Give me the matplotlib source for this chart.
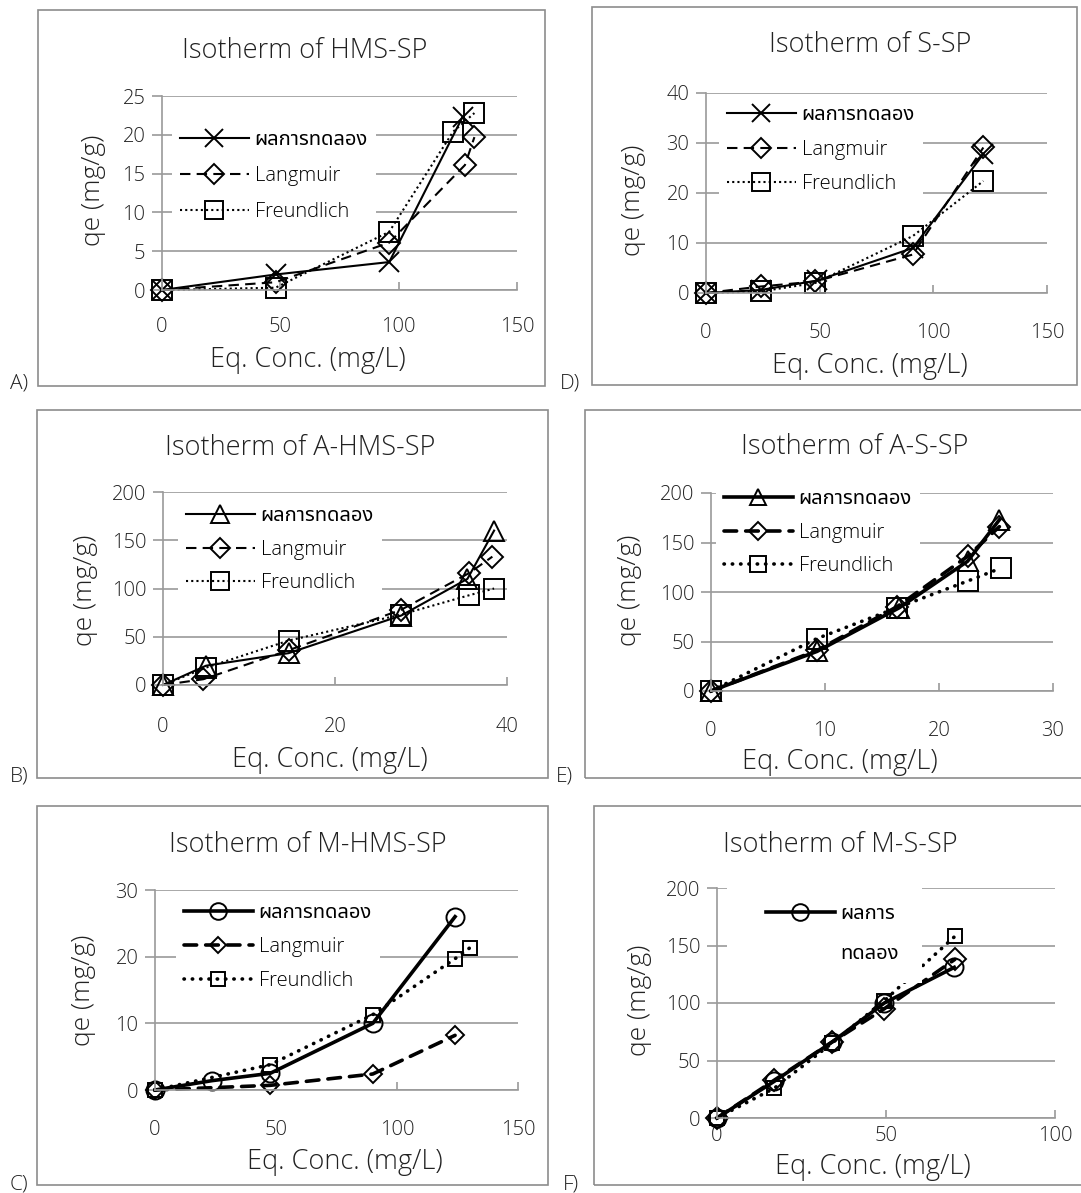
import matplotlib
matplotlib.use('Agg')
import matplotlib.pyplot as plt
from matplotlib import font_manager
from matplotlib.ft2font import FT2Font
from matplotlib.patches import Rectangle
from matplotlib.lines import Line2D


W, H = 1081, 1193

# ---- data ----
labels = ['ผลการทดลอง', 'Langmuir', 'Freundlich']

# A) HMS-SP
hms_exp_x = [0, 48, 96, 127]
hms_exp_y = [0, 2.0, 3.6, 22.3]
hms_lang_x = [0, 48, 96, 128, 132]
hms_lang_y = [0, 1.0, 6.1, 16.1, 19.7]
hms_freu_x = [0, 48, 96, 123, 132]
hms_freu_y = [0, 0.3, 7.5, 20.4, 22.8]

# D) S-SP
s_exp_x = [0, 24, 49, 91, 122]
s_exp_y = [0, 0.6, 2.5, 9.0, 27.8]
s_lang_x = [0, 24, 48, 91, 122]
s_lang_y = [0, 1.3, 2.3, 7.7, 29.1]
s_freu_x = [0, 24, 48, 91, 122]
s_freu_y = [0, 0.3, 2.0, 11.4, 22.4]

# B) A-HMS-SP
ahms_exp_x = [0, 5.0, 14.6, 27.7, 35.4, 38.5]
ahms_exp_y = [0, 20, 33, 72, 110, 160]
ahms_lang_x = [0, 4.7, 14.6, 27.7, 35.6, 38.3]
ahms_lang_y = [0, 6, 36, 78, 116, 133]
ahms_freu_x = [0, 5.0, 14.6, 27.7, 35.6, 38.5]
ahms_freu_y = [0, 18, 46, 73, 93, 100]

# E) A-S-SP
as_exp_x = [0, 9.3, 16.5, 22.5, 25.3]
as_exp_y = [0, 40, 84, 131, 173]
as_lang_x = [0, 9.3, 16.3, 22.5, 25.3]
as_lang_y = [0, 41, 85, 136, 166]
as_freu_x = [0, 9.3, 16.3, 22.5, 25.4]
as_freu_y = [0, 53, 84, 111, 124]

# C) M-HMS-SP
mhms_exp_x = [0, 23.5, 47.6, 90, 124]
mhms_exp_y = [0, 1.4, 2.5, 10.0, 26.0]
mhms_lang_x = [0, 47.6, 90, 124]
mhms_lang_y = [0, 0.7, 2.4, 8.2]
mhms_freu_x = [0, 47.6, 90, 124, 130]
mhms_freu_y = [0, 3.8, 11.3, 19.7, 21.3]

# F) M-S-SP
ms_exp_x = [0, 17, 34, 49.5, 70.2]
ms_exp_y = [0, 32, 66, 100, 131]
ms_lang_x = [0, 17, 34, 49.5, 70.4]
ms_lang_y = [0, 33, 66, 95, 138]
ms_freu_x = [0, 17, 34, 49.5, 70.4]
ms_freu_y = [0, 26, 65, 102, 158]


def thai_font():
    # any installed font with Thai glyphs; prefer plain sans ones, lightest weight
    found = {}
    for f in font_manager.fontManager.ttflist:
        try:
            if FT2Font(f.fname).get_char_index(ord('ผ')):
                w = f.weight if isinstance(f.weight, int) else 400
                found[f.name] = min(found.get(f.name, 1000), w)
        except Exception:
            pass
    if not found:
        return None, 'normal'
    for pref in ['Noto Sans Thai', 'Noto Sans Thai UI', 'Loma', 'Garuda',
                 'Tlwg Typo', 'Sarabun']:
        if pref in found:
            return pref, found[pref]
    name = sorted(found)[0]
    return name, found[name]


fam = ['Open Sans']
th, th_weight = thai_font()
if th:
    fam.append(th)
fam.append('DejaVu Sans')
plt.rcParams['font.family'] = fam

GRID = '#9a9a9a'
BOX = '#8c8c8c'
TXT = '#222222'

fig = plt.figure(figsize=(W / 100, H / 100), dpi=100)


def fx(px):
    return px / W


def fy(py):
    return 1 - py / H


def panel(letter, title, series, box, axpx, xmax, xstep, ymax, ystep,
          title_y, xlab, ylab, letter_pos, tick_y, leg, thick=False,
          leg_labels=None, leg_box=None):
    x0, y0, x1, y1 = box
    fig.patches.append(Rectangle((fx(x0), fy(y1)), fx(x1 - x0), (y1 - y0) / H,
                                 transform=fig.transFigure, fill=False,
                                 edgecolor=BOX, lw=1.2))
    l, t, r, b = axpx
    ax = fig.add_axes([fx(l), fy(b), fx(r - l), (b - t) / H])
    ax.set_xlim(0, xmax)
    ax.set_ylim(0, ymax)
    ax.set_xticks(range(0, xmax + 1, xstep))
    ax.set_yticks(range(0, ymax + 1, ystep))
    for s in ['top', 'right']:
        ax.spines[s].set_visible(False)
    for s in ['left', 'bottom']:
        ax.spines[s].set_color(GRID)
        ax.spines[s].set_linewidth(1.2)
    ax.yaxis.grid(True, color=GRID, lw=1.2)
    ax.set_axisbelow(True)
    pad = (tick_y - b - 10) * 0.72
    ax.tick_params(axis='x', direction='in', length=6, color=GRID, width=1.2,
                   pad=pad, labelsize=14.5, labelcolor=TXT)
    ax.tick_params(axis='y', direction='out', length=7, color=GRID, width=1.2,
                   pad=5, labelsize=14.5, labelcolor=TXT)
    for tl in ax.get_xticklabels() + ax.get_yticklabels():
        tl.set_fontweight('light')

    lw = 2.6 if thick else 1.5
    handles = []
    for (x, y, lab, mk, ls, ms, lms) in series:
        ax.plot(x, y, color='black', lw=lw, ls=ls, marker=mk, ms=ms,
                mfc='none', mec='black', mew=1.4, clip_on=False,
                dash_capstyle='round' if thick else 'butt')
        handles.append(Line2D([], [], color='black', lw=lw, ls=ls, marker=mk,
                              ms=lms, mfc='none', mec='black', mew=1.4,
                              dash_capstyle='round' if thick else 'butt'))
    hl = handles
    ll = [s[2] for s in series]
    if leg_labels is not None:
        hl = [handles[0], Line2D([], [], color='none')]
        ll = leg_labels
    if leg_box is not None:
        # white area of the legend box, which hides the lines behind it
        bx0, by0, bx1, by1 = leg_box
        ax.add_patch(Rectangle((fx(bx0), fy(by1)), fx(bx1 - bx0),
                               (by1 - by0) / H, transform=fig.transFigure,
                               facecolor='white', edgecolor='none',
                               zorder=4, clip_on=False))
    lg = ax.legend(hl, ll, loc='upper left',
                   bbox_to_anchor=(fx(leg[0]), fy(leg[1])),
                   bbox_transform=fig.transFigure, frameon=True,
                   fontsize=14.5, handlelength=3.4, handletextpad=0.3,
                   labelspacing=leg[2], borderpad=0.4, borderaxespad=0)
    lg.get_frame().set_facecolor('white')
    lg.get_frame().set_edgecolor('none')
    lg.get_frame().set_alpha(1)
    lg.set_zorder(10)
    for tx in lg.get_texts():
        if tx.get_text().isascii():
            tx.set_fontweight('light')
        else:
            tx.set_fontweight(th_weight)

    fig.text(fx(title_y[0]), fy(title_y[1]), title, ha='center', va='center',
             fontsize=19.5, color=TXT, fontweight='light')
    fig.text(fx(xlab[0]), fy(xlab[1]), 'Eq. Conc. (mg/L)', ha='center',
             va='center', fontsize=19.5, color=TXT, fontweight='light')
    fig.text(fx(ylab[0]), fy(ylab[1]), 'qe (mg/g)', ha='center', va='center',
             rotation=90, fontsize=19, color=TXT, fontweight='light')
    fig.text(fx(letter_pos[0]), fy(letter_pos[1]), letter, ha='left',
             va='bottom', fontsize=15, color=TXT, fontweight='light')


thin_dash = (0, (5, 3))
thin_dot = (0, (1, 1.5))
thick_dash = (0, (3.5, 2.5))
thick_dot = (0, (0.1, 2.2))

panel('A)', 'Isotherm of HMS-SP',
      [(hms_exp_x, hms_exp_y, labels[0], 'x', '-', 14, 13),
       (hms_lang_x, hms_lang_y, labels[1], 'D', thin_dash, 11, 10),
       (hms_freu_x, hms_freu_y, labels[2], 's', thin_dot, 14, 13)],
      (38, 10, 545, 386), (162, 96, 517, 290), 150, 50, 25, 5,
      (305, 51), (308, 360), (93, 190), (10, 394), 327, (172, 122, 0.8))

panel('D)', 'Isotherm of S-SP',
      [(s_exp_x, s_exp_y, labels[0], 'x', '-', 14, 13),
       (s_lang_x, s_lang_y, labels[1], 'D', thin_dash, 11, 10),
       (s_freu_x, s_freu_y, labels[2], 's', thin_dot, 14, 13)],
      (592, 7, 1077, 385), (706, 93, 1047, 293), 150, 50, 40, 10,
      (870, 45), (870, 366), (634, 200), (560, 394), 333, (719, 97, 0.72))

panel('B)', 'Isotherm of A-HMS-SP',
      [(ahms_exp_x, ahms_exp_y, labels[0], '^', '-', 14, 13),
       (ahms_lang_x, ahms_lang_y, labels[1], 'D', thin_dash, 11, 10),
       (ahms_freu_x, ahms_freu_y, labels[2], 's', thin_dot, 14, 13)],
      (37, 410, 548, 778), (163, 492, 507, 685), 40, 20, 200, 50,
      (300, 448), (330, 760), (86, 590), (10, 787), 727, (178, 498, 0.68))

panel('E)', 'Isotherm of A-S-SP',
      [(as_exp_x, as_exp_y, labels[0], '^', '-', 14, 12),
       (as_lang_x, as_lang_y, labels[1], 'D', thick_dash, 11, 9),
       (as_freu_x, as_freu_y, labels[2], 's', thick_dot, 14, 12)],
      (585, 410, 1084, 778), (711, 493, 1053, 691), 30, 10, 200, 50,
      (855, 447), (840, 762), (630, 590), (556, 787), 731, (716, 481, 0.68),
      thick=True)

panel('C)', 'Isotherm of M-HMS-SP',
      [(mhms_exp_x, mhms_exp_y, labels[0], 'o', '-', 13, 12),
       (mhms_lang_x, mhms_lang_y, labels[1], 'D', thick_dash, 9, 8),
       (mhms_freu_x, mhms_freu_y, labels[2], 's', thick_dot, 10, 10)],
      (37, 806, 548, 1185), (155, 890, 518, 1090), 150, 50, 30, 10,
      (308, 845), (345, 1162), (83, 990), (10, 1194), 1130, (176, 895, 0.7),
      thick=True)

panel('F)', 'Isotherm of M-S-SP',
      [(ms_exp_x, ms_exp_y, labels[0], 'o', '-', 13, 12),
       (ms_lang_x, ms_lang_y, labels[1], 'D', thick_dash, 11, 9),
       (ms_freu_x, ms_freu_y, labels[2], 's', thick_dot, 10, 10)],
      (594, 806, 1084, 1185), (717, 888, 1055, 1118), 100, 50, 200, 50,
      (840, 845), (873, 1167), (640, 1000), (563, 1194), 1136, (758, 896, 1.0),
      thick=True, leg_labels=['ผลการ', 'ทดลอง'], leg_box=(727, 887, 922, 983))

fig.savefig('out.png', dpi=100)
